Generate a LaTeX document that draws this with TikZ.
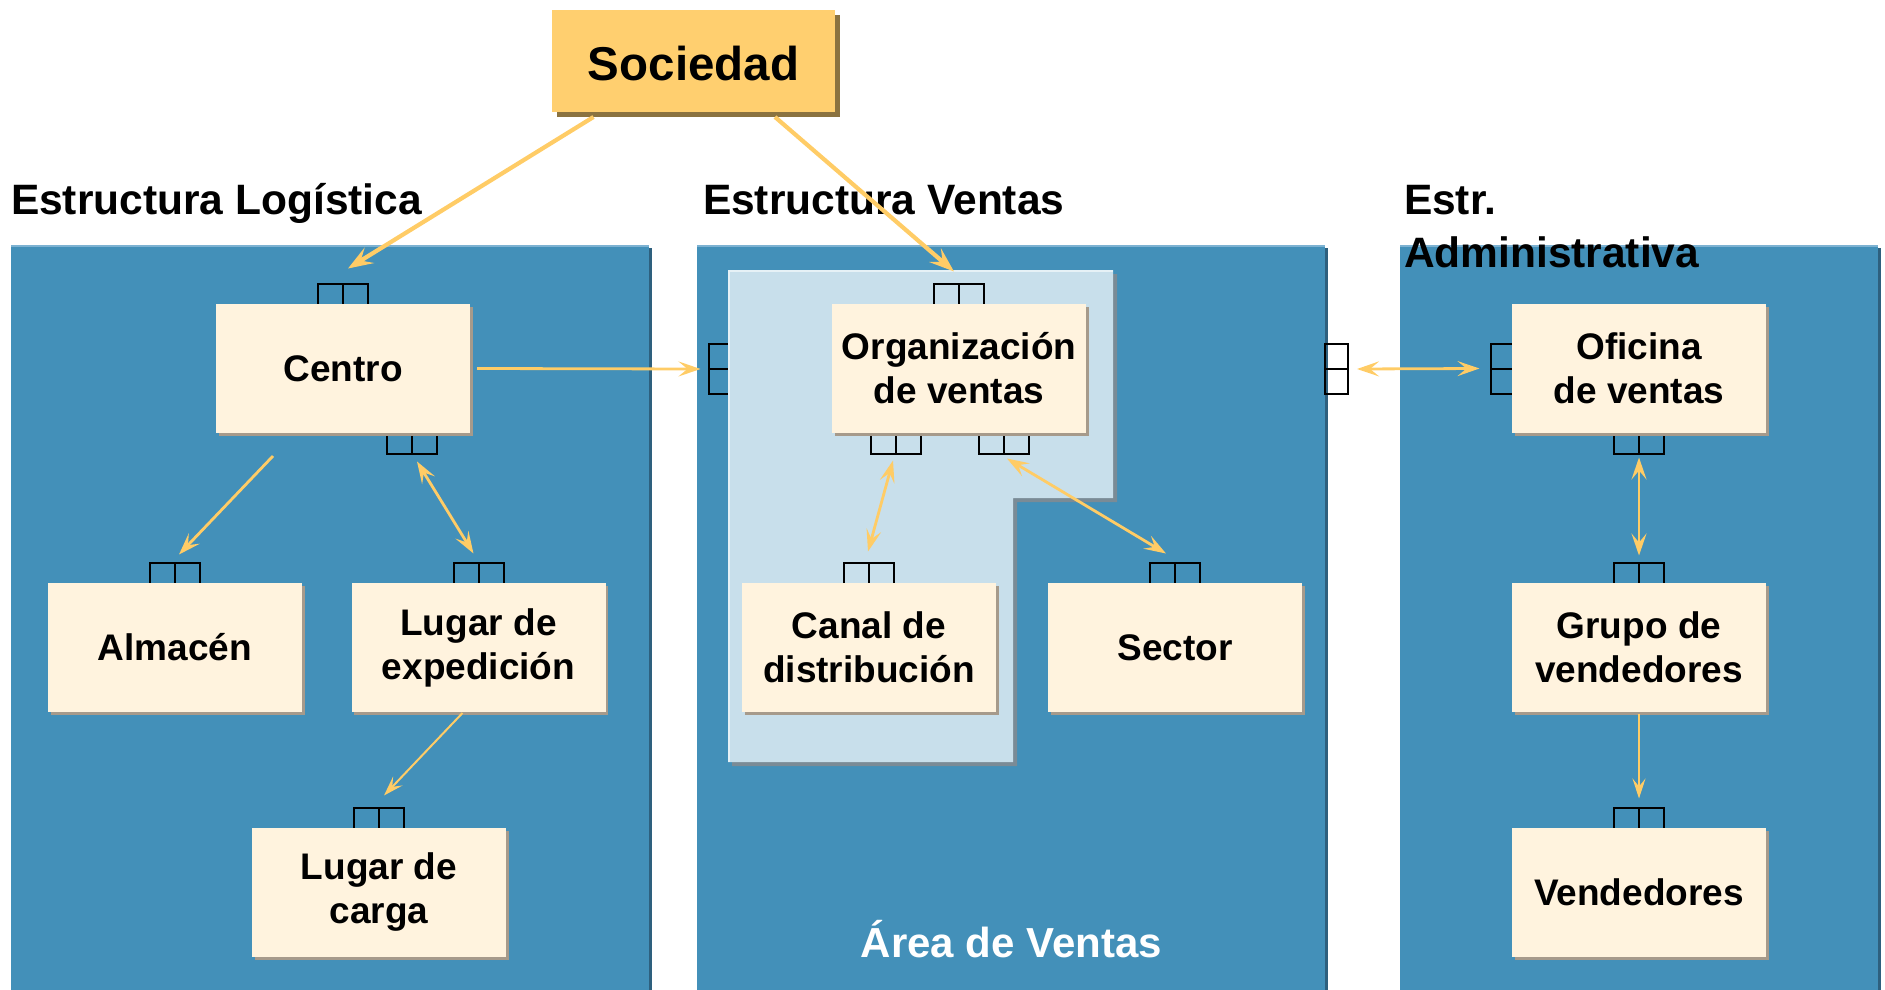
\documentclass[tikz,border=0pt]{standalone}
\usepackage{fontspec}
\setmainfont{Liberation Sans}
\usetikzlibrary{positioning,arrows.meta,shadows}
\definecolor{panelblue}{RGB}{67,144,185}
\definecolor{paneledge}{RGB}{46,96,126}
\definecolor{paneltop}{RGB}{125,178,210}
\definecolor{arealight}{RGB}{200,223,235}
\definecolor{areashadow}{RGB}{122,139,150}
\definecolor{boxcream}{RGB}{255,243,222}
\definecolor{boxshadow}{RGB}{166,154,139}
\definecolor{socgold}{RGB}{255,207,111}
\definecolor{socshadow}{RGB}{139,115,64}
\definecolor{linkyellow}{RGB}{255,204,102}
\pgfdeclarelayer{panel_layer}
\pgfdeclarelayer{sym_layer}
\pgfsetlayers{panel_layer,sym_layer,main}

\begin{document}
\begin{tikzpicture}[x=1pt,y=-1pt,
    box_node/.style={rectangle,fill=boxcream,minimum width=254pt,minimum height=129pt,inner sep=0pt,outer sep=0pt,align=center,font=\fontsize{37}{44}\selectfont\bfseries,general shadow={fill=boxshadow,shadow xshift=2.5pt,shadow yshift=-2.5pt}},
    soc_node/.style={rectangle,fill=socgold,minimum width=283pt,minimum height=102pt,inner sep=0pt,outer sep=0pt,text height=40pt,text depth=0pt,font=\fontsize{47.5}{56}\selectfont\bfseries,general shadow={fill=socshadow,shadow xshift=5pt,shadow yshift=-5pt}},
    sym_node/.style={draw,line width=2pt,minimum width=50pt,minimum height=22pt,inner sep=0pt,outer sep=0pt,path picture={\draw[line width=2pt] (path picture bounding box.north) -- (path picture bounding box.south);}},
    side_node/.style={draw,line width=2pt,minimum width=23pt,minimum height=50pt,inner sep=0pt,outer sep=0pt,path picture={\draw[line width=2pt] (path picture bounding box.west) -- (path picture bounding box.east);}},
    title_text/.style={inner sep=0pt,outer sep=0pt,font=\fontsize{42.5}{53}\selectfont\bfseries},
    soc_arrow/.style={linkyellow,line width=4.2pt,-{Stealth[length=25pt,width=18pt,inset=10pt]}},
    link_arrow/.style={linkyellow,line width=2.8pt,-{Stealth[length=22pt,width=15pt,inset=9pt]}},
    both_arrow/.style={linkyellow,line width=2.8pt,{Stealth[length=22pt,width=15pt,inset=9pt]}-{Stealth[length=22pt,width=15pt,inset=9pt]}},
    thin_arrow/.style={linkyellow,line width=2pt,-{Stealth[length=20pt,width=13pt,inset=8pt]}}]
    \useasboundingbox (0,0) rectangle (1885,990);

    \begin{pgfonlayer}{panel_layer}
    \fill[paneledge] (14,248) rectangle (652,995);
    \fill[panelblue] (11,245) rectangle (649,995);
    \fill[paneledge] (700,248) rectangle (1328,995);
    \fill[panelblue] (697,245) rectangle (1325,995);
    \fill[paneledge] (1403,248) rectangle (1881,995);
    \fill[panelblue] (1400,245) rectangle (1878,995);
    \draw[paneltop,line width=1.5pt] (11,245.75) -- (649,245.75) (697,245.75) -- (1325,245.75) (1400,245.75) -- (1878,245.75);
    \node[side_node] (v_left) at (720,369) {};
    \fill[areashadow] (732,274) -- (1117,274) -- (1117,502) -- (1017,502) -- (1017,766) -- (732,766) -- cycle;
    \fill[arealight] (728,270) -- (1113,270) -- (1113,498) -- (1013,498) -- (1013,762) -- (728,762) -- cycle;
    \draw[white!55!arealight,line width=1.5pt] (728.75,762) -- (728.75,270.75) -- (1113,270.75);
    \node[side_node] (v_right) at (1336.5,369) {};
    \end{pgfonlayer}

    \node[title_text,anchor=base west] (t_log) at (11,214) {Estructura Logística};
    \node[title_text,anchor=base west] (t_ven) at (703,214) {Estructura Ventas};
    \node[title_text,anchor=base west,align=left] (t_adm) at (1404,267) {Estr.\\Administrativa};
    \node[title_text,anchor=base,text=white,font=\fontsize{42}{50}\selectfont\bfseries] (t_area) at (1011.5,957) {Área de Ventas};

    \node[soc_node] (sociedad) at (693.5,61) {Sociedad};

    \node[box_node] (centro) at (343,368.5) {Centro};
    \node[box_node] (almacen) at (175,647.5) {Almacén};
    \node[box_node] (lugar_exp) at (478.5,647.5) {Lugar de\\expedición};
    \node[box_node] (lugar_carga) at (379,892.5) {Lugar de\\carga};
    \node[box_node] (org_ventas) at (959,368.5) {Organización\\de ventas};
    \node[box_node] (canal) at (869,647.5) {Canal de\\distribución};
    \node[box_node] (sector) at (1175,647.5) {Sector};
    \node[box_node] (oficina) at (1639,368.5) {Oficina\\de ventas};
    \node[box_node] (grupo) at (1639,647.5) {Grupo de\\vendedores};
    \node[box_node] (vendedores) at (1639,892.5) {Vendedores};

    \begin{pgfonlayer}{sym_layer}
    \node[sym_node,above=-1.5pt of centro] (centro_top) {};
    \node[sym_node,below=-1.5pt of centro,xshift=69pt] (centro_bot) {};
    \node[sym_node,above=-1.5pt of almacen] (almacen_top) {};
    \node[sym_node,above=-1.5pt of lugar_exp] (lugar_exp_top) {};
    \node[sym_node,above=-1.5pt of lugar_carga] (lugar_carga_top) {};
    \node[sym_node,above=-1.5pt of org_ventas] (org_top) {};
    \node[sym_node,below=-1.5pt of org_ventas,xshift=-63pt] (org_bot_a) {};
    \node[sym_node,below=-1.5pt of org_ventas,xshift=45pt] (org_bot_b) {};
    \node[sym_node,above=-1.5pt of canal] (canal_top) {};
    \node[sym_node,above=-1.5pt of sector] (sector_top) {};
    \node[side_node,left=-1.5pt of oficina] (oficina_left) {};
    \node[sym_node,below=-1.5pt of oficina] (oficina_bot) {};
    \node[sym_node,above=-1.5pt of grupo] (grupo_top) {};
    \node[sym_node,above=-1.5pt of vendedores] (vendedores_top) {};
    \end{pgfonlayer}

    \draw[soc_arrow] ([xshift=-100pt,yshift=-5pt]sociedad.south) -- ([xshift=5pt,yshift=15pt]centro_top.north);
    \draw[soc_arrow] ([xshift=81.5pt,yshift=-5pt]sociedad.south) -- ([xshift=-5pt,yshift=12pt]org_top.north);
    \draw[link_arrow] ([xshift=7pt]centro.east) -- ([xshift=-8pt]v_left.west);
    \draw[link_arrow] ([xshift=-70pt,yshift=-23pt]centro.south) -- ([xshift=4pt,yshift=8pt]almacen_top.north);
    \draw[both_arrow] ([xshift=5pt,yshift=-8pt]centro_bot.south) -- ([xshift=-5pt,yshift=9pt]lugar_exp_top.north);
    \draw[thin_arrow] ([xshift=-16pt,yshift=-1pt]lugar_exp.south) -- ([xshift=5pt,yshift=12pt]lugar_carga_top.north);
    \draw[both_arrow] ([xshift=-3pt,yshift=-7pt]org_bot_a.south) -- ([xshift=-1pt,yshift=11pt]canal_top.north);
    \draw[both_arrow] ([xshift=3pt,yshift=-5pt]org_bot_b.south) -- ([xshift=-9pt,yshift=9pt]sector_top.north);
    \draw[both_arrow] ([xshift=9pt]v_right.east) -- ([xshift=-11pt]oficina_left.west);
    \draw[both_arrow] ([yshift=-4pt]oficina_bot.south) -- ([yshift=7pt]grupo_top.north);
    \draw[thin_arrow] ([yshift=-2pt]grupo.south) -- ([yshift=9pt]vendedores_top.north);
\end{tikzpicture}
\end{document}
